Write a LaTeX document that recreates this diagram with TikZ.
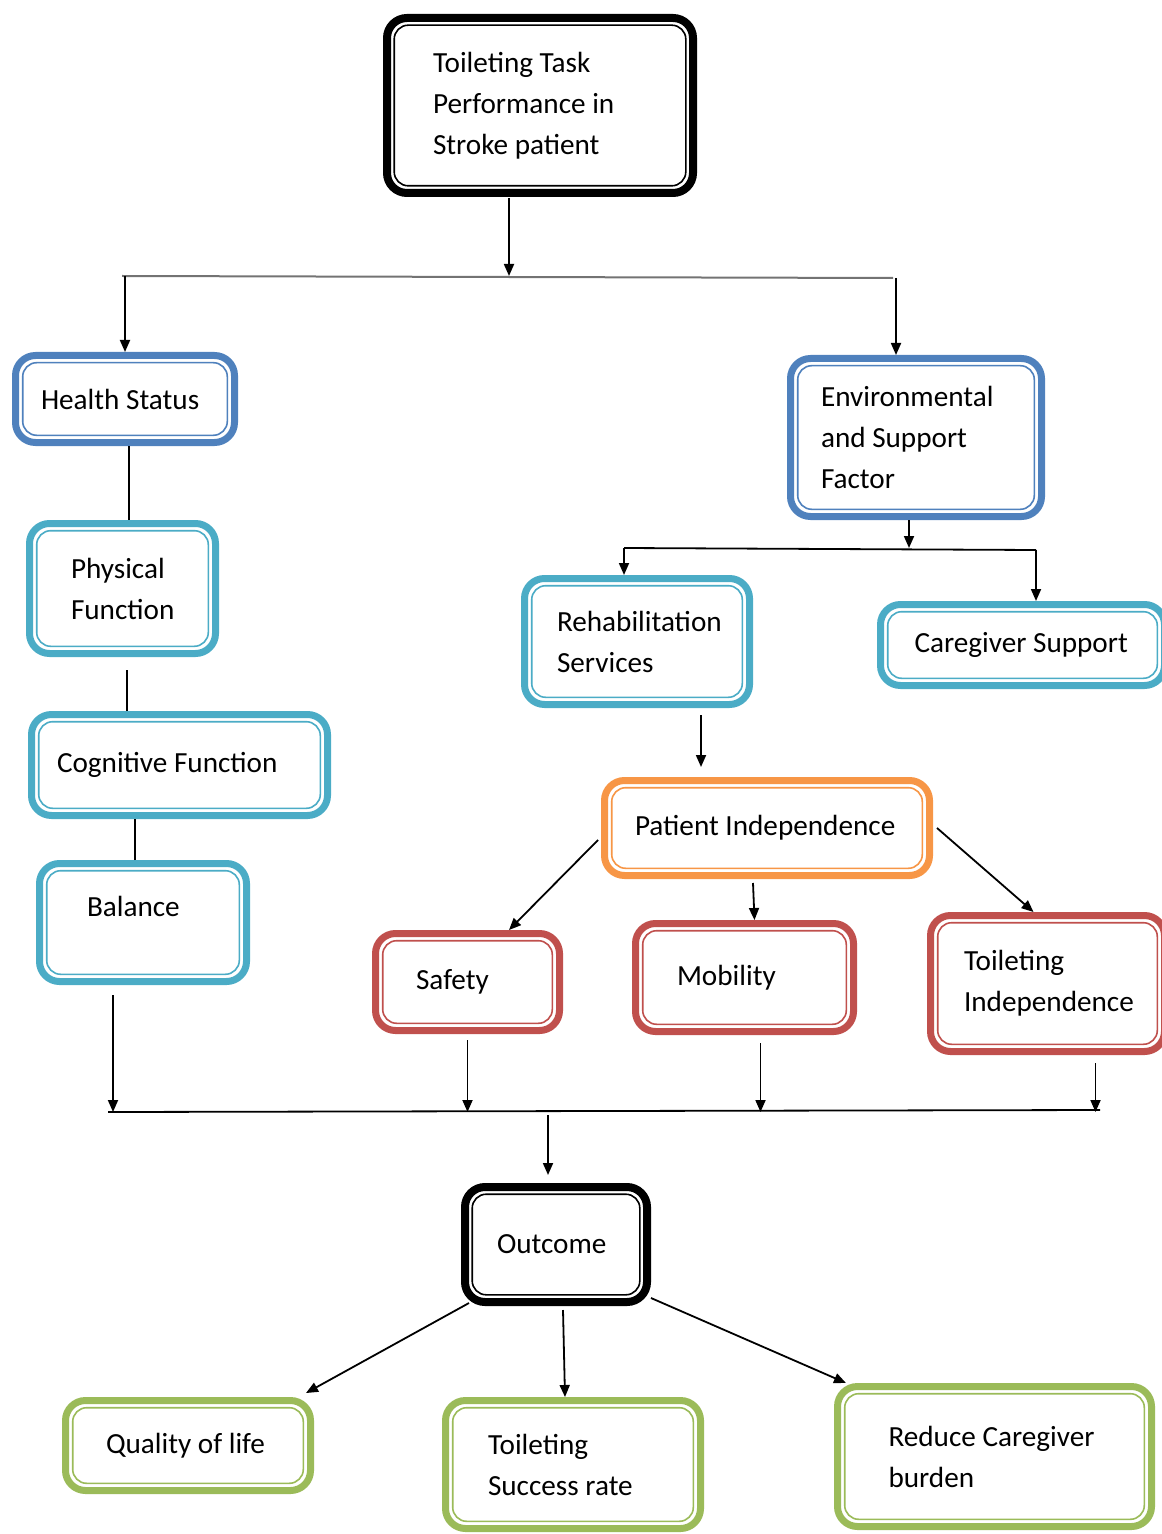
\documentclass[tikz,border=0pt]{standalone}
\usepackage{fontspec}
\setmainfont{Carlito}
\usetikzlibrary{arrows.meta}
\definecolor{hblue}{HTML}{4F81BD}
\definecolor{hcyan}{HTML}{4BACC6}
\definecolor{horange}{HTML}{F79646}
\definecolor{hred}{HTML}{C0504D}
\definecolor{hgreen}{HTML}{9BBB59}
\hyphenpenalty=10000

\begin{document}
\begin{tikzpicture}[x=0.5pt,y=-0.5pt,
  box/.style={draw=#1,fill=white,line width=3.5pt,rounded corners=10pt,align=flush left,inner sep=0pt,
    font=\fontsize{14.6}{20.5}\selectfont,
    path picture={\draw[#1,line width=0.8pt,rounded corners=7pt]
      ([shift={(3.6pt,3.6pt)}]path picture bounding box.south west) rectangle
      ([shift={(-3.6pt,-3.6pt)}]path picture bounding box.north east);}},
  bbox/.style={box=black,line width=4pt},
  arr/.style={-{Triangle[length=6pt,width=5pt]},line width=0.9pt},
  link/.style={line width=0.9pt}]
\useasboundingbox (0,0) rectangle (1161,1534);

\node[bbox,minimum width=153pt,minimum height=87.5pt,text width=107pt] (task) at (540,105.5) {Toileting Task\\Performance in\\Stroke patient};
\node[box=hblue,minimum width=109.5pt,minimum height=43.5pt,text width=84pt] (health) at (125,399) {Health Status};
\node[box=hcyan,minimum width=93pt,minimum height=65pt,text width=51.5pt] (phys) at (122.5,588.5) {Physical\\Function};
\node[box=hcyan,minimum width=148pt,minimum height=50.5pt,text width=122.5pt] (cogn) at (179.5,765) {Cognitive~Function};
\node[box=hcyan,minimum width=103.5pt,minimum height=59pt,text width=56pt,text height=10pt,text depth=16.5pt] (balance) at (143,922.5) {Balance};
\node[box=hblue,minimum width=125.5pt,minimum height=79pt,text width=95pt] (env) at (916,437.5) {Environmental\\and Support\\Factor};
\node[box=hcyan,minimum width=112.5pt,minimum height=63pt,text width=80pt] (rehab) at (637,641.5) {Rehabilitation\\Services};
\node[box=hcyan,minimum width=142pt,minimum height=40.5pt,text width=108pt] (care) at (1022.5,645) {Caregiver~Support};
\node[box=horange,minimum width=162.5pt,minimum height=47.5pt,text width=132pt] (pind) at (767,828) {Patient~Independence};
\node[box=hred,minimum width=92pt,minimum height=48.5pt,text width=51.5pt] (safety) at (467.5,982) {Safety};
\node[box=hred,minimum width=109pt,minimum height=54pt,text width=67.5pt] (mob) at (744.5,977.5) {Mobility};
\node[box=hred,minimum width=117pt,minimum height=68pt,text width=83.5pt] (tind) at (1047.5,983.5) {Toileting\\Independence};
\node[bbox,minimum width=91pt,minimum height=57.5pt,text width=59pt] (outcome) at (556,1244.5) {Outcome};
\node[box=hgreen,minimum width=122.5pt,minimum height=45pt,text width=82pt] (qol) at (188,1445.5) {Quality~of~life};
\node[box=hgreen,minimum width=127.5pt,minimum height=64pt,text width=85pt] (tsr) at (573,1464.5) {Toileting\\Success rate};
\node[box=hgreen,minimum width=157pt,minimum height=70pt,text width=106pt] (rcb) at (994.5,1456.5) {Reduce~Caregiver\\burden};

\coordinate (t1) at (509,276);
\coordinate (b1w) at (122,276);
\coordinate (b1e) at (893,278);
\coordinate (b1r) at (896,278);
\coordinate (b2w) at (624,548);
\coordinate (b2e) at (1036,550);
\coordinate (b3w) at (108,1112);
\coordinate (b3e) at (1100,1110);

\draw[arr] ([yshift=-0.5pt]task.south -| t1) -- (t1);
\draw[line width=1pt,black!55] (b1w) -- (b1e);
\draw[arr] (health.north |- b1w) -- (health.north);
\draw[arr] (b1r) -- (b1r |- env.north);
\draw[link] ([xshift=2pt]health.south) -- ([xshift=2pt]health.south |- phys.north);
\draw[link] ([xshift=2.25pt,yshift=-6.5pt]phys.south) -- ([xshift=2.25pt]phys.south |- cogn.north);
\draw[link] ([xshift=-4pt]balance.north) -- ([xshift=-4pt]balance.north |- cogn.south);
\draw[arr] ([xshift=-15pt,yshift=-5pt]balance.south) -- ([xshift=-15pt]balance.south |- b3w);

\draw[arr] ([xshift=-3.5pt]env.south) -- ([xshift=-3.5pt]env.south |- b2w);
\draw[link] (b2w) -- (b2e);
\draw[arr] (b2w) -- (b2w |- rehab.north);
\draw[arr] (b2e) -- (b2e |- care.north);
\draw[arr,shorten <=3.5pt,shorten >=5pt] ([xshift=32pt]rehab.south) -- ([xshift=32pt]rehab.south |- pind.north);

\draw[arr] ([xshift=-1.5pt,yshift=-6pt]pind.west) -- ([xshift=20.75pt]safety.north);
\draw[arr] ([xshift=-7pt,yshift=-2pt]pind.south) -- ([xshift=5pt]mob.north);
\draw[arr] ([xshift=2pt]pind.east) -- ([xshift=-7pt]tind.north);

\draw[arr] ([yshift=-3pt]safety.south) -- (safety.south |- b3w);
\draw[arr] ([xshift=8pt,yshift=-4pt]mob.south) -- ([xshift=8pt]mob.south |- b3w);
\draw[arr] ([xshift=24pt,yshift=-4pt]tind.south) -- ([xshift=24pt]tind.south |- b3w);
\draw[link] (b3w) -- (b3e);
\draw[arr,shorten <=1.5pt,shorten >=4pt] ([xshift=-4pt]outcome.north |- b3w) -- ([xshift=-4pt]outcome.north);

\draw[arr] ([xshift=4pt,yshift=1.5pt]outcome.south west) -- ([xshift=-4pt,yshift=2pt]qol.north east);
\draw[arr] ([xshift=3.5pt,yshift=-2pt]outcome.south) -- ([xshift=-4pt]tsr.north);
\draw[arr] ([yshift=4pt]outcome.south east) -- ([xshift=6pt]rcb.north west);
\end{tikzpicture}
\end{document}
